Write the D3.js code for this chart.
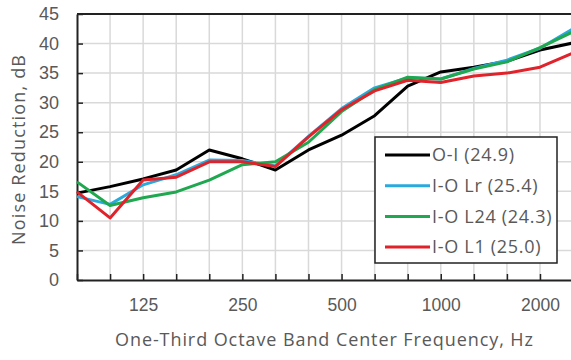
<!DOCTYPE html>
<html>
<head>
<meta charset="utf-8">
<script src="https://cdn.jsdelivr.net/npm/d3@7"></script>
<style>
  body { margin: 0; background: #fff; }
  svg { font-family: "Open Sans", Lato, sans-serif; }
</style>
</head>
<body>
<div id="chart"></div>
<script>
// DATA
const bands = ["80","100","125","160","200","250","315","400","500","630","800","1000","1250","1600","2000","2500"]
const tickLabels = ["125","250","500","1000","2000"]
const yTicks = [0,5,10,15,20,25,30,35,40,45]

const oi    = [14.7,15.8,17.1,18.6,22.0,20.5,18.6,22.0,24.5,27.8,32.8,35.2,36.0,37.0,38.9,40.1]
const ioLr  = [14.1,12.8,16.1,17.8,20.3,20.2,19.3,24.3,29.0,32.5,34.2,34.0,35.8,37.2,39.2,42.5]
const ioL24 = [16.6,12.6,13.9,14.9,16.9,19.5,20.0,23.3,28.5,32.2,34.3,34.0,35.7,36.9,39.3,42.0]
const ioL1  = [14.9,10.5,16.9,17.4,20.0,20.0,19.2,24.2,28.8,32.0,33.8,33.4,34.5,35.0,36.0,38.4]

const seriesNames = ["O-I (24.9)","I-O Lr (25.4)","I-O L24 (24.3)","I-O L1 (25.0)"]
const seriesColors = ["#000000","#2aa9dc","#1fa84f","#e0222b"]
const seriesValues = [oi, ioLr, ioL24, ioL1]

const width = 571, height = 360
const plotLeft = 77, plotTop = 14, plotBottom = 280
const step = 33.07

const svg = d3.select("#chart").append("svg")
  .attr("width", width)
  .attr("height", height)

const xScale = d3.scalePoint()
  .domain(bands)
  .range([plotLeft, plotLeft + step * (bands.length - 1)])

const yScale = d3.scaleLinear()
  .domain([0, 45])
  .range([plotBottom, plotTop])

const plotRight = xScale("2500") + 4

// grid
svg.append("g").selectAll("line")
  .data(bands.slice(1))
  .join("line")
    .attr("x1", d => xScale(d)).attr("x2", d => xScale(d))
    .attr("y1", plotTop).attr("y2", plotBottom)
    .attr("stroke", "#d9d9d9").attr("stroke-width", 1.5)

svg.append("g").selectAll("line")
  .data(yTicks.slice(1, -1))
  .join("line")
    .attr("x1", plotLeft).attr("x2", plotRight)
    .attr("y1", d => yScale(d)).attr("y2", d => yScale(d))
    .attr("stroke", "#d9d9d9").attr("stroke-width", 1.5)

// top border
svg.append("line")
  .attr("x1", plotLeft).attr("x2", plotRight)
  .attr("y1", plotTop).attr("y2", plotTop)
  .attr("stroke", "#222").attr("stroke-width", 2)

// AXES
const xAxis = d3.axisBottom(xScale)
  .tickSizeInner(-6).tickSizeOuter(0).tickPadding(19)
  .tickFormat(d => tickLabels.includes(d) ? d : "")

const yAxis = d3.axisLeft(yScale)
  .tickValues(yTicks)
  .tickSizeInner(-6).tickSizeOuter(0).tickPadding(18)

const gx = svg.append("g")
  .attr("transform", `translate(0, ${plotBottom})`)
  .call(xAxis)
gx.select(".domain").attr("stroke", "#222").attr("stroke-width", 2)
gx.selectAll(".tick line").attr("stroke", "#222").attr("stroke-width", 1.5)
gx.selectAll("text").attr("font-size", 17.5).attr("fill", "#595959")

const gy = svg.append("g")
  .attr("transform", `translate(${plotLeft}, 0)`)
  .call(yAxis)
gy.select(".domain").attr("stroke", "#222").attr("stroke-width", 2)
gy.selectAll(".tick line").attr("stroke", "#222").attr("stroke-width", 1.5)
gy.selectAll("text").attr("font-size", 18).attr("fill", "#595959")

// axis titles
svg.append("text")
  .attr("x", 324).attr("y", 346)
  .attr("text-anchor", "middle")
  .attr("font-size", 18).attr("fill", "#595959")
  .attr("textLength", 418).attr("lengthAdjust", "spacing")
  .text("One-Third Octave Band Center  Frequency, Hz")

svg.append("text")
  .attr("transform", `translate(25, 150) rotate(-90)`)
  .attr("text-anchor", "middle")
  .attr("font-size", 18).attr("fill", "#595959")
  .attr("textLength", 190).attr("lengthAdjust", "spacing")
  .text("Noise Reduction, dB")

// LINES
const line = d3.line()
  .x((d, i) => xScale(bands[i]))
  .y(d => yScale(d))

svg.append("g").selectAll("path")
  .data(seriesValues)
  .join("path")
    .attr("d", d => line(d))
    .attr("fill", "none")
    .attr("stroke", (d, i) => seriesColors[i])
    .attr("stroke-width", 3)
    .attr("stroke-linejoin", "round")

// LEGEND
const legend = svg.append("g").attr("transform", "translate(375, 137)")
legend.append("rect")
  .attr("width", 182).attr("height", 126)
  .attr("fill", "#fff").attr("stroke", "#222").attr("stroke-width", 1.5)

const items = legend.selectAll("g.item")
  .data(seriesNames)
  .join("g")
    .attr("class", "item")
    .attr("transform", (d, i) => `translate(0, ${18 + i * 30.7})`)

items.append("line")
  .attr("x1", 10).attr("x2", 55)
  .attr("stroke", (d, i) => seriesColors[i])
  .attr("stroke-width", 3)

items.append("text")
  .attr("x", 57).attr("dy", "0.35em")
  .attr("font-size", 18).attr("letter-spacing", 0.7).attr("fill", "#595959")
  .text(d => d)
</script>
</body>
</html>
